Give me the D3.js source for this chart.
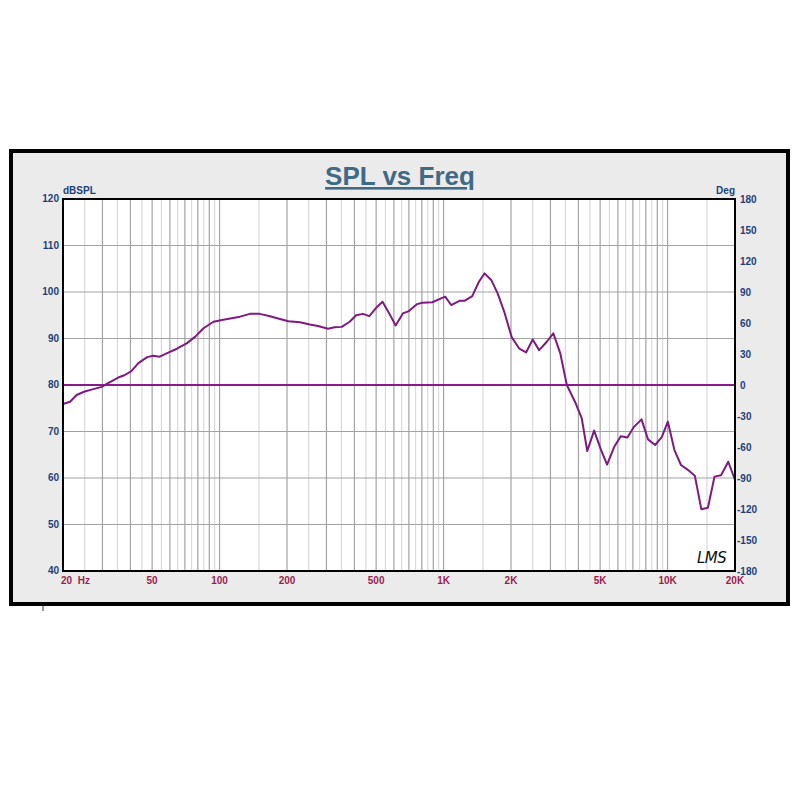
<!DOCTYPE html>
<html><head><meta charset="utf-8">
<script src="https://cdn.jsdelivr.net/npm/d3@7/dist/d3.min.js"></script>
<style>html,body{margin:0;padding:0;background:#fff;}svg{display:block;}</style>
</head><body>
<script>
const title = "SPL vs Freq";
const freqs = [20,21.5,23,25,26.8,29.8,31.2,35.3,37.6,40.4,43.4,47.5,50.5,54.1,58,64.5,71.6,77.9,84.8,93.9,102.5,111.6,123.4,136.7,151,168,186,203,228.5,253,275,305,326,351,381,407,436,466,498,534,572,611,658,700,762,803,891,992,1017,1081,1178,1240,1343,1438,1524,1632,1747,1870,2014,2180,2335,2500,2670,2890,3090,3320,3550,3860,4140,4380,4700,5050,5370,5780,6190,6620,7080,7650,8180,8800,9420,10030,10730,11480,12360,13230,14150,15140,16200,17330,18660,20000];
const spl = [75.9,76.4,77.85,78.6,79.0,79.6,80.2,81.6,82.1,83.0,84.7,86.0,86.3,86.1,86.8,87.8,89.0,90.4,92.2,93.6,94.0,94.3,94.7,95.3,95.3,94.8,94.2,93.7,93.5,93.0,92.7,92.1,92.4,92.5,93.6,95.0,95.3,94.8,96.5,97.9,95.4,92.8,95.4,95.9,97.4,97.7,97.8,98.8,99.0,97.2,98.1,98.1,99.1,102.2,104.0,102.6,99.6,95.6,90.3,87.8,87.0,89.8,87.5,89.3,91.1,86.8,80.0,76.4,72.8,65.8,70.2,66.0,62.9,66.7,69.0,68.7,71.0,72.6,68.3,67.1,68.8,72.1,66.0,62.8,61.7,60.5,53.3,53.6,60.3,60.6,63.5,59.6];
const phaseFreqs = [20, 20000];
const phaseDeg = [0, 0];
const splTicks = [40,50,60,70,80,90,100,110,120];
const degTicks = [180,150,120,90,60,30,0,-30,-60,-90,-120,-150,-180];
const freqTicks = [20,50,100,200,500,1000,2000,5000,10000,20000];
const freqTickLabels = ["20  Hz","50","100","200","500","1K","2K","5K","10K","20K"];

const W = 802, H = 802;
const svg = d3.select("body").append("svg").attr("width", W).attr("height", H);
const m = {l:63, r:735, t:199, b:571};

// outer panel
svg.append("rect").attr("x",11).attr("y",151).attr("width",777).attr("height",453)
  .attr("fill","#ebebeb").attr("stroke","#000").attr("stroke-width",4);
svg.append("line").attr("x1",43).attr("x2",43).attr("y1",606).attr("y2",611).attr("stroke","#333").attr("stroke-width",1);

const x = d3.scaleLog().domain([20,20000]).range([m.l, m.r]);
const y = d3.scaleLinear().domain([40,120]).range([m.b, m.t]);
const yR = d3.scaleLinear().domain([-180,180]).range([m.b, m.t]);

svg.append("rect").attr("x",m.l).attr("y",m.t).attr("width",m.r-m.l).attr("height",m.b-m.t).attr("fill","#fff");

// vertical grid: every half-step of each decade, dark at integer multiples
const uniq = new Map();
for (const dec of [10,100,1000,10000]) {
  for (let k=2; k<=20; k++) {
    const f = dec*k*0.5;
    if (f<=20 || f>=20000) continue;
    const major = Number.isInteger(f/dec);
    if (dec===10000 && f!==15000 && f!==10000) continue;
    uniq.set(f,{f,major});
  }
}
const vl = Array.from(uniq.values());
svg.append("g").selectAll("line").data(vl.filter(d=>!d.major)).join("line")
  .attr("x1",d=>x(d.f)).attr("x2",d=>x(d.f)).attr("y1",m.t).attr("y2",m.b)
  .attr("stroke","#d9d9d9").attr("stroke-width",1.2);
svg.append("g").selectAll("line").data(vl.filter(d=>d.major)).join("line")
  .attr("x1",d=>x(d.f)).attr("x2",d=>x(d.f)).attr("y1",m.t).attr("y2",m.b)
  .attr("stroke","#a3a3a3").attr("stroke-width",1.2);
// horizontal grid
svg.append("g").selectAll("line").data(splTicks.slice(1,-1)).join("line")
  .attr("x1",m.l).attr("x2",m.r).attr("y1",d=>y(d)).attr("y2",d=>y(d))
  .attr("stroke","#a3a3a3").attr("stroke-width",1.2);

// phase line
const purple = "#7e1a80";
svg.append("path").datum(phaseFreqs.map((f,i)=>[f,phaseDeg[i]]))
  .attr("d", d3.line().x(d=>x(d[0])).y(d=>yR(d[1])))
  .attr("fill","none").attr("stroke","#8a1a8c").attr("stroke-width",2);

// SPL line
svg.append("path").datum(freqs.map((f,i)=>[f,spl[i]]))
  .attr("d", d3.line().x(d=>x(d[0])).y(d=>y(d[1])))
  .attr("fill","none").attr("stroke",purple).attr("stroke-width",2).attr("stroke-linejoin","round");

// plot frame
svg.append("rect").attr("x",m.l).attr("y",m.t).attr("width",m.r-m.l).attr("height",m.b-m.t)
  .attr("fill","none").attr("stroke","#000").attr("stroke-width",2);

const blue = "#1d3f7c", red = "#9c1c4e";
const ff = "Arial, 'Liberation Sans', sans-serif";
// left ticks
svg.append("g").selectAll("text").data(splTicks).join("text")
  .attr("x",59).attr("y",d=>y(d)+3).attr("text-anchor","end")
  .attr("font-family",ff).attr("font-size",10).attr("font-weight","bold").attr("fill",blue)
  .text(d=>d);
svg.append("text").attr("x",63).attr("y",194).attr("font-family",ff).attr("font-size",10)
  .attr("font-weight","bold").attr("fill",blue).text("dBSPL");
// right ticks
svg.append("g").selectAll("text").data(degTicks).join("text")
  .attr("x",d=>d<0?737:740).attr("y",d=>yR(d)+4).attr("text-anchor","start")
  .attr("font-family",ff).attr("font-size",10).attr("font-weight","bold").attr("fill",blue)
  .text(d=>d);
svg.append("text").attr("x",735).attr("y",194).attr("text-anchor","end").attr("font-family",ff).attr("font-size",10)
  .attr("font-weight","bold").attr("fill",blue).text("Deg");
// bottom ticks
svg.append("g").selectAll("text").data(freqTicks).join("text")
  .attr("x",(d,i)=> i===0 ? 61 : x(d)).attr("y",584)
  .attr("text-anchor",(d,i)=> i===0 ? "start" : "middle")
  .attr("xml:space","preserve").style("white-space","pre")
  .attr("font-family",ff).attr("font-size",10).attr("font-weight","bold").attr("fill",red)
  .text((d,i)=>freqTickLabels[i]);

// title
svg.append("text").attr("x",400).attr("y",185).attr("text-anchor","middle")
  .attr("font-family",ff).attr("font-size",26).attr("font-weight","bold").attr("fill","#3f6a86")
  .attr("text-decoration","underline").text(title);

// LMS logo
svg.append("text").attr("x",697).attr("y",563).attr("font-family","'DejaVu Sans', sans-serif")
  .attr("font-style","italic").attr("font-size",15).attr("fill","#111").attr("letter-spacing",-0.5).text("LMS");
</script>
</body></html>
